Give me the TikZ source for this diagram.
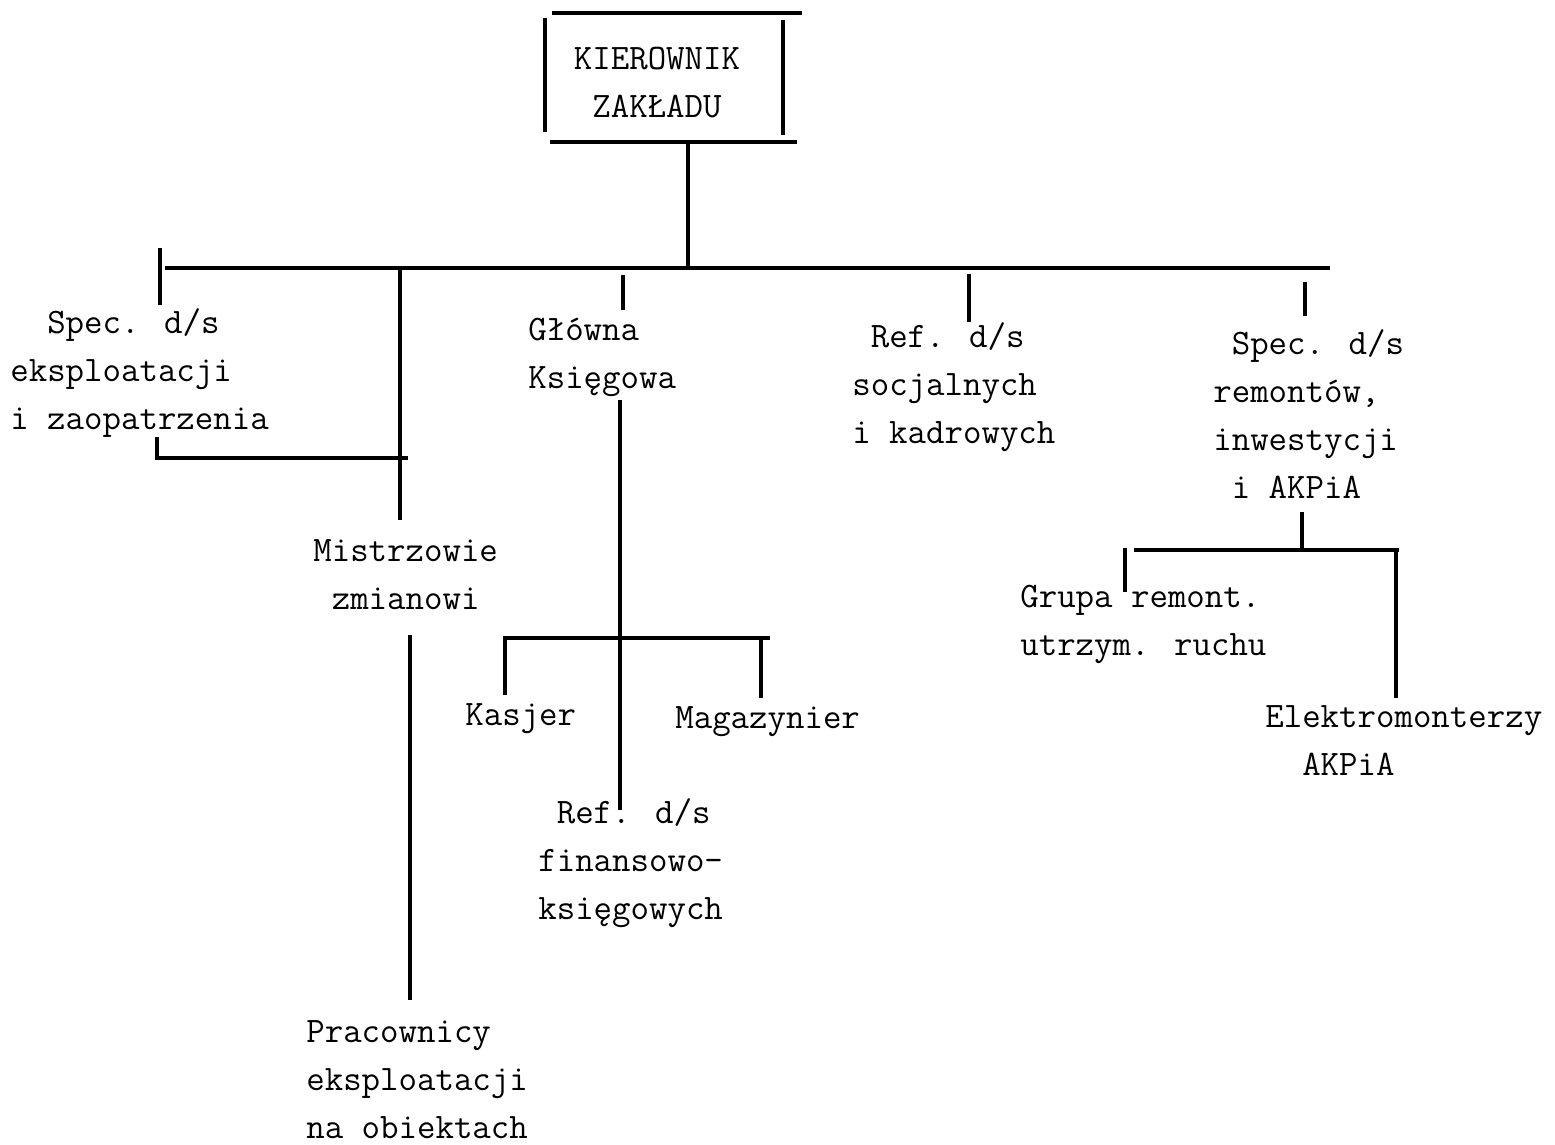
\documentclass[tikz,border=0pt]{standalone}
\usepackage{fontspec}
\usepackage{tikz}
\usetikzlibrary{positioning, calc}
\def\unitsize{0.02cm}
\tikzstyle{connector} = [black, -, line width=2pt]
\newcommand{\tikzunitnode}{\node[
  draw=none, inner sep=0, anchor=base west, align=left,
  font=\ttfamily\fontsize{20.4pt}{27.3pt}\selectfont
]}

\begin{document}
\begin{tikzpicture}[x=\unitsize, y=-\unitsize]
    \useasboundingbox (0,0) rectangle (1555,1144);

    % nodes (placed at the baseline of their last line)
    \tikzunitnode[anchor=base, align=center] at (657,117) (boss) {KIEROWNIK\\ZAKŁADU};
    \tikzunitnode at (10,429)   (spec-eksp) {\phantom{xx}Spec. d/s\\eksploatacji\\i zaopatrzenia};
    \tikzunitnode at (313,609)  (mistrz)    {Mistrzowie\\\phantom{x}zmianowi};
    \tikzunitnode at (306,1138) (prac)      {Pracownicy\\eksploatacji\\na obiektach};
    \tikzunitnode at (528,388)  (glowna)    {Główna\\Księgowa};
    \tikzunitnode at (465,725)  (kasjer)    {Kasjer};
    \tikzunitnode at (675,728)  (magazyn)   {Magazynier};
    \tikzunitnode at (538,919)  (ref-fin)   {\phantom{x}Ref. d/s\\finansowo-\\księgowych};
    \tikzunitnode at (852,443)  (ref-soc)   {\phantom{x}Ref. d/s\\socjalnych\\i kadrowych};
    \tikzunitnode at (1213,498) (spec-rem)  {\phantom{x}Spec. d/s\\remontów,\\inwestycji\\\phantom{x}i AKPiA};
    \tikzunitnode at (1020,655) (grupa)     {Grupa remont.\\utrzym. ruchu};
    \tikzunitnode at (1265,775) (elektro)   {Elektromonterzy\\\phantom{xx}AKPiA};

    % box
    \draw[connector] (552,13)  -- (802,13);
    \draw[connector] (545,18)  -- (545,132);
    \draw[connector] (783,20)  -- (783,135);
    \draw[connector] (550,142) -- (797,142);

    % junctions
    \coordinate (boss-s)  at (688,142);
    \coordinate (bus)     at (688,268);
    \coordinate (bus-w)   at (165,268);
    \coordinate (bus-e)   at (1330,268);
    \coordinate (eksp-n)  at (160,248);
    \coordinate (eksp-t)  at (160,305);
    \coordinate (eksp-b)  at (157,437);
    \coordinate (eksp-j)  at (157,458);
    \coordinate (mist-j)  at (408,458);
    \coordinate (mist-n)  at (400,270);
    \coordinate (mist-t)  at (400,520);
    \coordinate (mist-b)  at (410,635);
    \coordinate (prac-t)  at (410,1000);
    \coordinate (glow-n)  at (623,275);
    \coordinate (glow-t)  at (623,310);
    \coordinate (glow-b)  at (620,400);
    \coordinate (fin-t)   at (620,810);
    \coordinate (kas-j)   at (505,638);
    \coordinate (kas-t)   at (505,695);
    \coordinate (mag-j)   at (770,638);
    \coordinate (mag-n)   at (761,638);
    \coordinate (mag-t)   at (761,698);
    \coordinate (soc-n)   at (969,274);
    \coordinate (soc-t)   at (969,322);
    \coordinate (rem-n)   at (1305,282);
    \coordinate (rem-t)   at (1305,316);
    \coordinate (rem-b)   at (1302,512);
    \coordinate (rem-j)   at (1302,550);
    \coordinate (grp-j)   at (1134,550);
    \coordinate (grp-n)   at (1125,548);
    \coordinate (grp-t)   at (1125,592);
    \coordinate (ele-j)   at (1399,550);
    \coordinate (ele-n)   at (1396,550);
    \coordinate (ele-t)   at (1396,698);

    % lines
    \draw[connector] (boss-s) -- (bus);
    \draw[connector] (bus-w)  -- (bus-e);
    \draw[connector] (eksp-n) -- (eksp-t);
    \draw[connector] (eksp-b) -- (eksp-j) -- (mist-j);
    \draw[connector] (mist-n) -- (mist-t);
    \draw[connector] (mist-b) -- (prac-t);
    \draw[connector] (glow-n) -- (glow-t);
    \draw[connector] (glow-b) -- (fin-t);
    \draw[connector] (kas-t)  -- (kas-j) -- (mag-j);
    \draw[connector] (mag-n)  -- (mag-t);
    \draw[connector] (soc-n)  -- (soc-t);
    \draw[connector] (rem-n)  -- (rem-t);
    \draw[connector] (rem-b)  -- (rem-j);
    \draw[connector] (grp-j)  -- (ele-j);
    \draw[connector] (grp-n)  -- (grp-t);
    \draw[connector] (ele-n)  -- (ele-t);
\end{tikzpicture}
\end{document}
